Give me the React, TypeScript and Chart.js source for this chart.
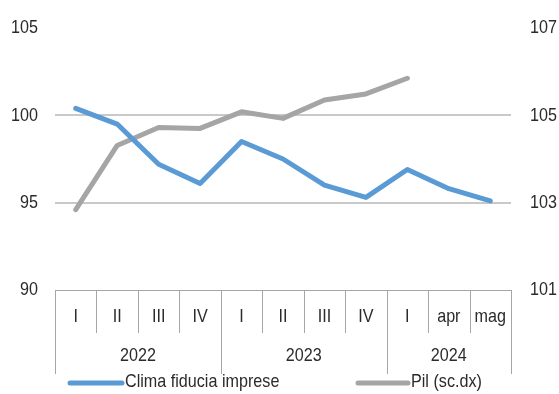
import React, { useEffect, useRef } from "react";
import { Chart, registerables } from "chart.js";

Chart.register(...registerables);

const categories = ["I", "II", "III", "IV", "I", "II", "III", "IV", "I", "apr", "mag"];
const years = ["2022", "2023", "2024"];
const yearSpans = [4, 4, 3];
const clima = [100.4, 99.5, 97.2, 96.1, 98.5, 97.5, 96.0, 95.3, 96.9, 95.8, 95.1];
const pil = [102.84, 104.31, 104.72, 104.7, 105.08, 104.93, 105.35, 105.49, 105.85, null, null];
const leftTicks = [90, 95, 100, 105];
const rightTicks = [101, 103, 105, 107];

const FONT = "'Liberation Sans', Arial, sans-serif";
const FONT_SIZE = 19;
const SX = 0.85;
const TEXT = "#2b2b2b";

function drawText(ctx: CanvasRenderingContext2D, t: string, x: number, y: number, align: CanvasTextAlign) {
  ctx.save();
  ctx.translate(x, y);
  ctx.scale(SX, 1);
  ctx.font = `${FONT_SIZE}px ${FONT}`;
  ctx.fillStyle = TEXT;
  ctx.textAlign = align;
  ctx.textBaseline = "middle";
  ctx.fillText(t, 0, 0);
  ctx.restore();
}

const tablePlugin = {
  id: "tablePlugin",
  afterDraw(chart: any) {
    const ctx = chart.ctx;
    const x = chart.scales.x;
    const yl = chart.scales.y;
    const yr = chart.scales.y1;
    const area = chart.chartArea;
    const n = categories.length;
    const top = area.bottom;
    const tickBottom = top + 43;
    const yearBottom = top + 84;
    const bounds: number[] = [];
    bounds.push(x.left);
    for (let i = 1; i < n; i++) {
      bounds.push((x.getPixelForValue(i - 1) + x.getPixelForValue(i)) / 2);
    }
    bounds.push(x.right);
    ctx.save();
    // axis labels
    leftTicks.forEach((v) => drawText(ctx, String(v), area.left - 17, yl.getPixelForValue(v), "right"));
    rightTicks.forEach((v) => drawText(ctx, String(v), area.right + 19, yr.getPixelForValue(v), "left"));

    ctx.strokeStyle = "#a6a6a6";
    ctx.lineWidth = 1;
    ctx.beginPath();
    ctx.moveTo(x.left, top + 0.5);
    ctx.lineTo(x.right, top + 0.5);
    ctx.stroke();
    const yearEdges = new Set<number>();
    let acc = 0;
    yearEdges.add(0);
    yearSpans.forEach((s) => {
      acc += s;
      yearEdges.add(acc);
    });
    bounds.forEach((b, i) => {
      const xb = Math.round(b) + 0.5;
      ctx.beginPath();
      ctx.moveTo(xb, top);
      ctx.lineTo(xb, yearEdges.has(i) ? yearBottom : tickBottom);
      ctx.stroke();
    });
    categories.forEach((c, i) => {
      drawText(ctx, c, x.getPixelForValue(i), top + 27, "center");
    });
    let start = 0;
    years.forEach((yrLabel, k) => {
      const end = start + yearSpans[k];
      const cx = (bounds[start] + bounds[end]) / 2;
      drawText(ctx, yrLabel, cx, top + 66, "center");
      start = end;
    });
    // legend
    const ly = top + 93;
    const ds = chart.data.datasets;
    const items = [
      { x0: 70, x1: 122 },
      { x0: 358, x1: 408 },
    ];
    ds.forEach((d: any, i: number) => {
      const it = items[i];
      ctx.strokeStyle = d.borderColor;
      ctx.lineWidth = 5;
      ctx.lineCap = "round";
      ctx.beginPath();
      ctx.moveTo(it.x0, ly);
      ctx.lineTo(it.x1, ly);
      ctx.stroke();
      drawText(ctx, d.label, it.x1 + 3, ly - 1, "left");
    });
    ctx.restore();
  },
};

export default function App() {
  const ref = useRef<HTMLCanvasElement | null>(null);
  useEffect(() => {
    document.body.style.margin = "0";
    const chart = new Chart(ref.current!, {
      type: "line",
      data: {
        labels: categories,
        datasets: [
          {
            label: "Clima fiducia imprese",
            data: clima,
            borderColor: "#5b9bd5",
            borderWidth: 5,
            pointRadius: 0,
            yAxisID: "y",
            tension: 0,
            borderJoinStyle: "round",
            borderCapStyle: "round",
          },
          {
            label: "Pil (sc.dx)",
            data: pil,
            borderColor: "#a5a5a5",
            borderWidth: 5,
            pointRadius: 0,
            yAxisID: "y1",
            tension: 0,
            borderJoinStyle: "round",
            borderCapStyle: "round",
          },
        ],
      },
      options: {
        animation: false,
        responsive: false,
        layout: { padding: { top: 24, bottom: 104, left: 0, right: 0 } },
        plugins: { legend: { display: false }, tooltip: { enabled: false } },
        scales: {
          x: { display: false, offset: true },
          y: {
            position: "left",
            min: 90,
            max: 105,
            afterBuildTicks: (s: any) => {
              s.ticks = leftTicks.map((v) => ({ value: v }));
            },
            afterFit: (s: any) => {
              s.width = 55;
            },
            border: { display: false },
            grid: {
              drawTicks: false,
              color: (c: any) =>
                c.tick && (c.tick.value === 95 || c.tick.value === 100) ? "#c9c9c9" : "rgba(0,0,0,0)",
              lineWidth: 2,
            },
            ticks: {
              color: "rgba(0,0,0,0)",
              font: { family: FONT, size: 15 },
              padding: 17,
            },
          },
          y1: {
            position: "right",
            min: 101,
            max: 107,
            afterBuildTicks: (s: any) => {
              s.ticks = rightTicks.map((v) => ({ value: v }));
            },
            afterFit: (s: any) => {
              s.width = 48;
            },
            border: { display: false },
            grid: { display: false, drawTicks: false },
            ticks: {
              color: "rgba(0,0,0,0)",
              font: { family: FONT, size: 15 },
              padding: 19,
            },
          },
        },
      },
      plugins: [tablePlugin],
    });
    return () => chart.destroy();
  }, []);
  return <canvas ref={ref} width={559} height={394} style={{ display: "block" }} />;
}
